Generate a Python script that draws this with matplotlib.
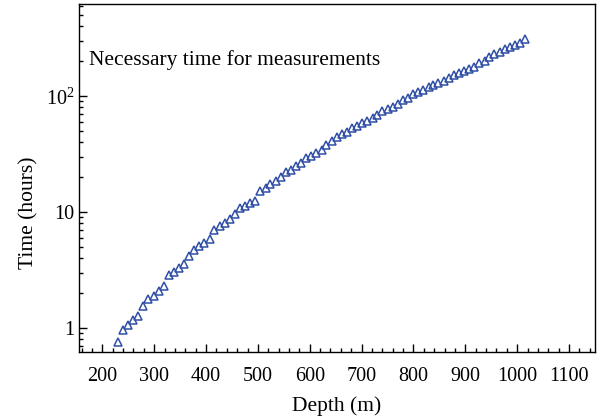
import matplotlib
matplotlib.use("Agg")
import matplotlib.pyplot as plt
from matplotlib.ticker import FixedLocator, FixedFormatter, LogLocator, NullFormatter

# depth of measurement (m)
depth = [230, 240, 250, 259, 269, 279, 289, 299, 309, 318,
         328, 338, 348, 358, 367, 377, 387, 397, 407, 416,
         426, 436, 446, 456, 466, 475, 485, 495, 505, 515,
         524, 534, 544, 554, 564, 573, 583, 593, 603, 613,
         623, 632, 642, 652, 662, 672, 681, 691, 701, 711,
         721, 730, 740, 750, 760, 770, 780, 789, 799, 809,
         819, 829, 838, 848, 858, 868, 878, 887, 897, 907,
         917, 927, 937, 946, 956, 966, 976, 986, 995, 1005,
         1015]
# necessary time (hours)
hours = [0.76, 0.96, 1.06, 1.16, 1.27, 1.53, 1.77, 1.90, 2.08, 2.32,
         2.85, 3.06, 3.29, 3.55, 4.18, 4.7, 5.09, 5.43, 5.82, 7.0,
         7.57, 8.0, 8.65, 9.6, 10.8, 11.3, 11.9, 12.4, 15.3, 16.0,
         17.3, 18.6, 20.2, 22.0, 23.0, 25.1, 26.6, 29.0, 30.6, 32.1,
         34.2, 37.8, 41, 44.6, 46.7, 49.2, 52.6, 55.4, 58.1, 60.8,
         64.2, 68.6, 74.3, 77.3, 80.9, 84.8, 92.4, 97, 105, 109,
         113, 120, 124, 130, 136, 142, 152, 157, 164, 170,
         179, 194, 202, 218, 230, 241, 253, 266, 275, 288,
         308]

xticks = [200, 300, 400, 500, 600, 700, 800, 900, 1000, 1100]
yticks = [1, 10, 100]
ytick_labels = ['1', '10', '$10^2$']

plt.rcParams['font.family'] = ['Liberation Serif', 'DejaVu Serif']
plt.rcParams['mathtext.fontset'] = 'custom'
plt.rcParams['mathtext.rm'] = 'Liberation Serif'

fig = plt.figure(figsize=(6.01, 4.19), dpi=100)
ax = fig.add_axes([0.1314, 0.160, 0.8586, 0.830])

ax.plot(depth, hours, linestyle='none', marker='^', markersize=6,
        markerfacecolor='none', markeredgecolor='#2f4fa6', markeredgewidth=1.1)

ax.set_yscale('log')
ax.set_xlim(155, 1150)
ax.set_ylim(0.62, 620)

ax.xaxis.set_major_locator(FixedLocator(xticks))
ax.xaxis.set_minor_locator(FixedLocator(range(160, 1150, 20)))
ax.yaxis.set_major_locator(FixedLocator(yticks))
ax.yaxis.set_major_formatter(FixedFormatter(ytick_labels))
ax.yaxis.set_minor_locator(LogLocator(base=10, subs=range(2, 10)))
ax.yaxis.set_minor_formatter(NullFormatter())

ax.tick_params(which='both', direction='in', top=False, right=False,
               labelsize=14.5, width=1, colors='black')
ax.tick_params(which='major', length=6)
ax.tick_params(axis='x', which='major', pad=11)
ax.tick_params(axis='y', which='major', pad=3)
ax.tick_params(which='minor', length=3)
for s in ax.spines.values():
    s.set_linewidth(1)

ax.set_xlabel('Depth (m)', fontsize=15.5, labelpad=7)
ax.set_ylabel('Time (hours)', fontsize=15.5)
ax.yaxis.set_label_coords(-0.078, 0.40)
ax.text(0.019, 0.84, 'Necessary time for measurements', transform=ax.transAxes,
        fontsize=15.5, va='center', ha='left')

fig.savefig('out.png', dpi=100)
